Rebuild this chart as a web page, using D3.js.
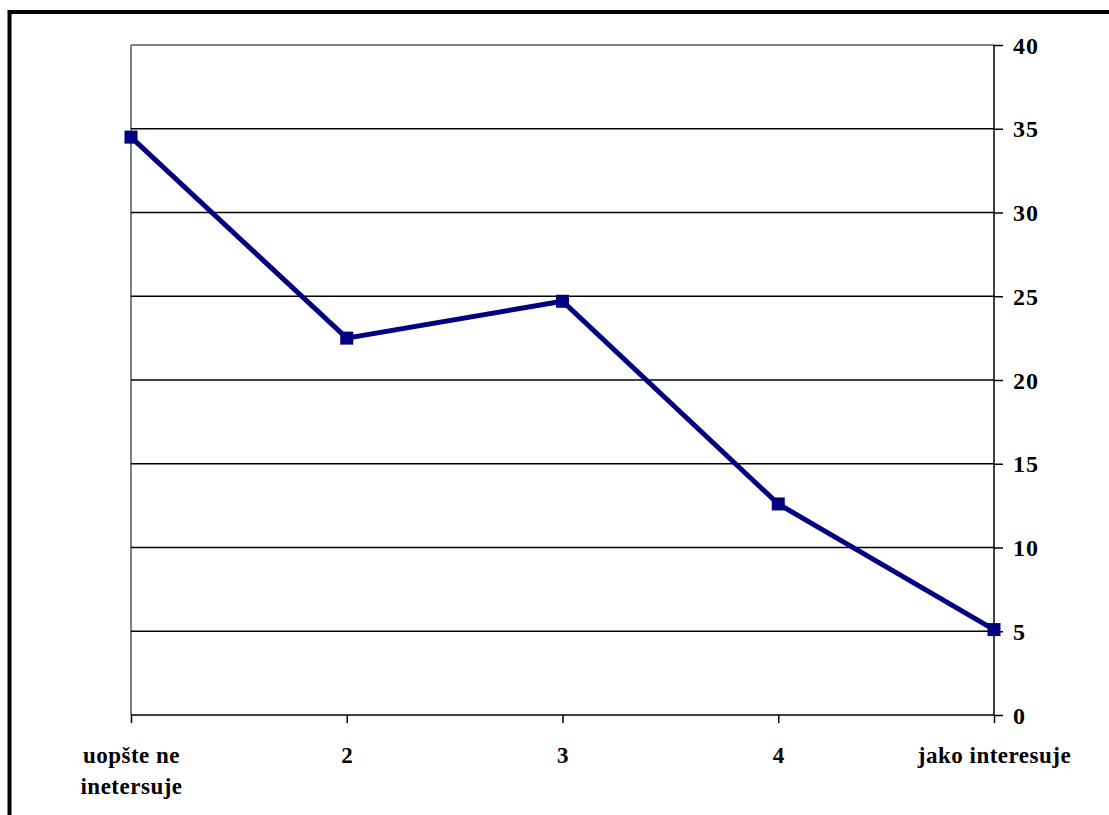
<!DOCTYPE html>
<html>
<head>
<meta charset="utf-8">
<script src="https://cdn.jsdelivr.net/npm/d3@7"></script>
<style>
  html, body { margin: 0; padding: 0; background: #fff; }
  svg { display: block; }
</style>
</head>
<body>
<svg id="chart" width="1109" height="815"></svg>
<script>
const categories = [["uopšte ne", "inetersuje"], ["2"], ["3"], ["4"], ["jako interesuje"]];
const values = [34.5, 22.5, 24.7, 12.6, 5.1];
const yTicks = [0, 5, 10, 15, 20, 25, 30, 35, 40];

const FONT = "'Times New Roman', 'Liberation Serif', Tinos, serif";
const svg = d3.select("#chart");
const plotL = 131, plotR = 994, plotT = 45, plotB = 715;

// outer frame (extends past the right/bottom edges)
svg.append("rect").attr("x", 9.5).attr("y", 12).attr("width", 1200).attr("height", 1000)
  .attr("fill", "none").attr("stroke", "#000").attr("stroke-width", 4);

const x = d3.scalePoint().domain(d3.range(categories.length)).range([plotL, plotR]).padding(0);
const y = d3.scaleLinear().domain([0, 40]).range([plotB, plotT]);

// plot border (grey left and top)
svg.append("line").attr("x1", plotL).attr("x2", plotL).attr("y1", plotT).attr("y2", plotB)
  .attr("stroke", "#808080").attr("stroke-width", 2);
svg.append("line").attr("x1", plotL).attr("x2", plotR).attr("y1", plotT).attr("y2", plotT)
  .attr("stroke", "#808080").attr("stroke-width", 2);

// gridlines
svg.append("g").selectAll("line").data(yTicks.filter(t => t > 0 && t < 40)).join("line")
  .attr("x1", plotL).attr("x2", plotR)
  .attr("y1", d => y(d)).attr("y2", d => y(d))
  .attr("stroke", "#000").attr("stroke-width", 1.5);

// right y axis
const yAxis = d3.axisRight(y).tickValues(yTicks).tickSize(9).tickPadding(10).tickFormat(d3.format("d"));
const gy = svg.append("g").attr("transform", `translate(${plotR},0)`).call(yAxis);
gy.select(".domain").attr("stroke", "#000").attr("stroke-width", 1.5).attr("d", `M0,${plotT}V${plotB}`);
gy.selectAll(".tick line").attr("stroke", "#000").attr("stroke-width", 1.5);
gy.selectAll(".tick text")
  .style("font-family", FONT).style("font-weight", "bold").style("font-size", "24px")
  .style("letter-spacing", "1px")
  .attr("fill", "#000").attr("dy", "0.34em");

// bottom x axis
const xAxis = d3.axisBottom(x).tickSize(8).tickFormat(() => "");
const gx = svg.append("g").attr("transform", `translate(0,${plotB})`).call(xAxis);
gx.select(".domain").attr("stroke", "#000").attr("stroke-width", 1.5).attr("d", `M${plotL},0H${plotR}`);
gx.selectAll(".tick line").attr("stroke", "#000").attr("stroke-width", 1.5);
gx.selectAll(".tick").each(function(d) {
  const t = d3.select(this).append("text").attr("text-anchor", "middle")
    .style("font-family", FONT).style("font-weight", "bold").style("font-size", "23px")
    .style("letter-spacing", "0.5px")
    .attr("fill", "#000").attr("y", 48);
  categories[d].forEach((ln, i) => {
    t.append("tspan").attr("x", 0).attr("dy", i === 0 ? 0 : 31).text(ln);
  });
});

// line
const line = d3.line().x((d, i) => x(i)).y(d => y(d));
svg.append("path").datum(values).attr("d", line)
  .attr("fill", "none").attr("stroke", "#000080").attr("stroke-width", 5)
  .attr("stroke-linejoin", "miter");

// markers
svg.append("g").selectAll("rect").data(values).join("rect")
  .attr("x", (d, i) => x(i) - 6.5).attr("y", d => y(d) - 6.5)
  .attr("width", 13).attr("height", 13).attr("fill", "#000080");
</script>
</body>
</html>
